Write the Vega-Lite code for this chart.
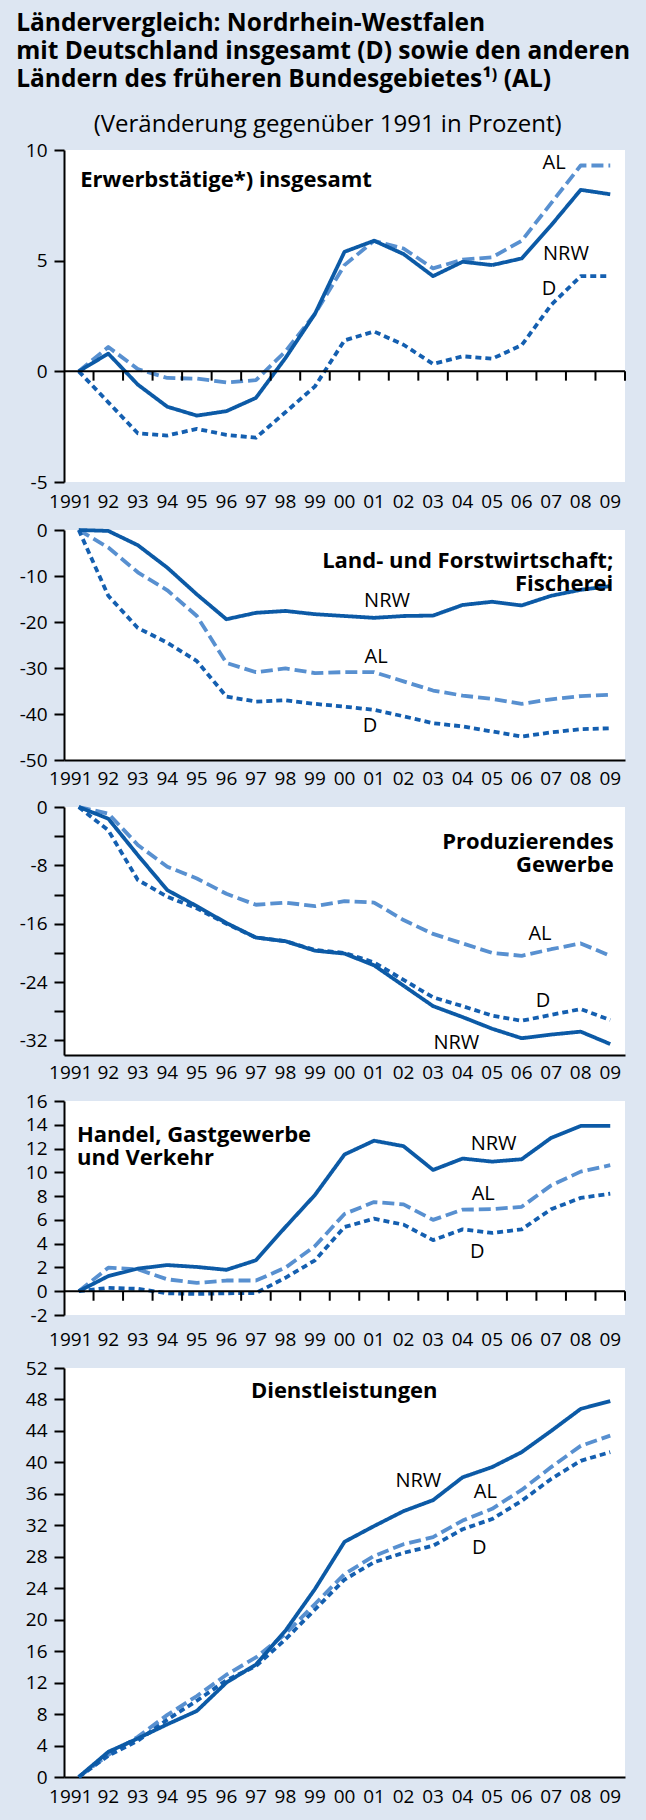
{
  "$schema": "https://vega.github.io/schema/vega-lite/v6.json",
  "background": "#dde6f2",
  "padding": {"left": 16, "top": 10, "right": 20, "bottom": 14},
  "spacing": 9,
  "title": {
    "text": ["Ländervergleich: Nordrhein-Westfalen", "mit Deutschland insgesamt (D) sowie den anderen", "Ländern des früheren Bundesgebietes¹⁾ (AL)"],
    "anchor": "start", "frame": "bounds", "fontSize": 24.5, "fontWeight": "bold", "lineHeight": 28,
    "offset": 21, "dx": -3, "color": "black", "font": "Open Sans"
  },
  "datasets": {
    "d": [
      {"p":1,"yr":1991,"NRW":0,"AL":0,"D":0},
      {"p":1,"yr":1992,"NRW":0.8,"AL":1.1,"D":-1.4},
      {"p":1,"yr":1993,"NRW":-0.6,"AL":0.1,"D":-2.8},
      {"p":1,"yr":1994,"NRW":-1.6,"AL":-0.3,"D":-2.9},
      {"p":1,"yr":1995,"NRW":-2.0,"AL":-0.33,"D":-2.6},
      {"p":1,"yr":1996,"NRW":-1.8,"AL":-0.5,"D":-2.87},
      {"p":1,"yr":1997,"NRW":-1.2,"AL":-0.4,"D":-3.0},
      {"p":1,"yr":1998,"NRW":0.6,"AL":0.9,"D":-1.85},
      {"p":1,"yr":1999,"NRW":2.6,"AL":2.6,"D":-0.68},
      {"p":1,"yr":2000,"NRW":5.4,"AL":4.8,"D":1.4},
      {"p":1,"yr":2001,"NRW":5.9,"AL":5.9,"D":1.8},
      {"p":1,"yr":2002,"NRW":5.3,"AL":5.55,"D":1.2},
      {"p":1,"yr":2003,"NRW":4.3,"AL":4.65,"D":0.33},
      {"p":1,"yr":2004,"NRW":4.95,"AL":5.05,"D":0.68},
      {"p":1,"yr":2005,"NRW":4.8,"AL":5.15,"D":0.57},
      {"p":1,"yr":2006,"NRW":5.1,"AL":5.9,"D":1.18},
      {"p":1,"yr":2007,"NRW":6.6,"AL":7.6,"D":3.0},
      {"p":1,"yr":2008,"NRW":8.2,"AL":9.3,"D":4.3},
      {"p":1,"yr":2009,"NRW":8.0,"AL":9.3,"D":4.3},
      {"p":2,"yr":1991,"NRW":0,"AL":0,"D":0},
      {"p":2,"yr":1992,"NRW":-0.2,"AL":-3.8,"D":-14.3},
      {"p":2,"yr":1993,"NRW":-3.3,"AL":-9.2,"D":-21.3},
      {"p":2,"yr":1994,"NRW":-8.2,"AL":-13.1,"D":-24.5},
      {"p":2,"yr":1995,"NRW":-14.0,"AL":-18.7,"D":-28.5},
      {"p":2,"yr":1996,"NRW":-19.4,"AL":-28.9,"D":-36.2},
      {"p":2,"yr":1997,"NRW":-18.0,"AL":-30.9,"D":-37.3},
      {"p":2,"yr":1998,"NRW":-17.6,"AL":-30.1,"D":-37.0},
      {"p":2,"yr":1999,"NRW":-18.3,"AL":-31.1,"D":-37.8},
      {"p":2,"yr":2000,"NRW":-18.7,"AL":-30.9,"D":-38.4},
      {"p":2,"yr":2001,"NRW":-19.1,"AL":-30.9,"D":-39.1},
      {"p":2,"yr":2002,"NRW":-18.7,"AL":-32.9,"D":-40.5},
      {"p":2,"yr":2003,"NRW":-18.6,"AL":-34.9,"D":-42.0},
      {"p":2,"yr":2004,"NRW":-16.3,"AL":-36.0,"D":-42.7},
      {"p":2,"yr":2005,"NRW":-15.6,"AL":-36.7,"D":-43.8},
      {"p":2,"yr":2006,"NRW":-16.4,"AL":-37.8,"D":-44.9},
      {"p":2,"yr":2007,"NRW":-14.3,"AL":-36.8,"D":-44.0},
      {"p":2,"yr":2008,"NRW":-13.0,"AL":-36.1,"D":-43.3},
      {"p":2,"yr":2009,"NRW":-12.2,"AL":-35.8,"D":-43.1},
      {"p":3,"yr":1991,"NRW":0,"AL":0,"D":0},
      {"p":3,"yr":1992,"NRW":-1.6,"AL":-0.9,"D":-3.2},
      {"p":3,"yr":1993,"NRW":-6.6,"AL":-5.2,"D":-10.0},
      {"p":3,"yr":1994,"NRW":-11.4,"AL":-8.2,"D":-12.3},
      {"p":3,"yr":1995,"NRW":-13.6,"AL":-9.8,"D":-13.9},
      {"p":3,"yr":1996,"NRW":-15.9,"AL":-11.9,"D":-16.0},
      {"p":3,"yr":1997,"NRW":-17.9,"AL":-13.4,"D":-17.9},
      {"p":3,"yr":1998,"NRW":-18.4,"AL":-13.1,"D":-18.4},
      {"p":3,"yr":1999,"NRW":-19.7,"AL":-13.6,"D":-19.6},
      {"p":3,"yr":2000,"NRW":-20.1,"AL":-12.9,"D":-20.0},
      {"p":3,"yr":2001,"NRW":-21.7,"AL":-13.1,"D":-21.3},
      {"p":3,"yr":2002,"NRW":-24.5,"AL":-15.5,"D":-23.7},
      {"p":3,"yr":2003,"NRW":-27.3,"AL":-17.4,"D":-26.1},
      {"p":3,"yr":2004,"NRW":-28.8,"AL":-18.7,"D":-27.3},
      {"p":3,"yr":2005,"NRW":-30.4,"AL":-20.0,"D":-28.6},
      {"p":3,"yr":2006,"NRW":-31.7,"AL":-20.4,"D":-29.3},
      {"p":3,"yr":2007,"NRW":-31.2,"AL":-19.5,"D":-28.5},
      {"p":3,"yr":2008,"NRW":-30.8,"AL":-18.7,"D":-27.7},
      {"p":3,"yr":2009,"NRW":-32.5,"AL":-20.4,"D":-29.2},
      {"p":4,"yr":1991,"NRW":0,"AL":0,"D":0},
      {"p":4,"yr":1992,"NRW":1.27,"AL":1.98,"D":0.28},
      {"p":4,"yr":1993,"NRW":1.9,"AL":1.84,"D":0.2},
      {"p":4,"yr":1994,"NRW":2.2,"AL":1.0,"D":-0.17},
      {"p":4,"yr":1995,"NRW":2.04,"AL":0.7,"D":-0.23},
      {"p":4,"yr":1996,"NRW":1.8,"AL":0.9,"D":-0.17},
      {"p":4,"yr":1997,"NRW":2.6,"AL":0.9,"D":-0.15},
      {"p":4,"yr":1998,"NRW":5.4,"AL":1.98,"D":1.13},
      {"p":4,"yr":1999,"NRW":8.1,"AL":3.8,"D":2.6},
      {"p":4,"yr":2000,"NRW":11.5,"AL":6.5,"D":5.4},
      {"p":4,"yr":2001,"NRW":12.66,"AL":7.5,"D":6.1},
      {"p":4,"yr":2002,"NRW":12.2,"AL":7.3,"D":5.6},
      {"p":4,"yr":2003,"NRW":10.2,"AL":6.0,"D":4.3},
      {"p":4,"yr":2004,"NRW":11.16,"AL":6.86,"D":5.2},
      {"p":4,"yr":2005,"NRW":10.9,"AL":6.9,"D":4.9},
      {"p":4,"yr":2006,"NRW":11.1,"AL":7.1,"D":5.2},
      {"p":4,"yr":2007,"NRW":12.9,"AL":8.9,"D":6.9},
      {"p":4,"yr":2008,"NRW":13.9,"AL":10.06,"D":7.85},
      {"p":4,"yr":2009,"NRW":13.9,"AL":10.6,"D":8.2},
      {"p":5,"yr":1991,"NRW":0,"AL":0,"D":0},
      {"p":5,"yr":1992,"NRW":3.2,"AL":2.8,"D":2.7},
      {"p":5,"yr":1993,"NRW":4.9,"AL":5.1,"D":4.6},
      {"p":5,"yr":1994,"NRW":6.7,"AL":7.9,"D":7.3},
      {"p":5,"yr":1995,"NRW":8.4,"AL":10.3,"D":9.7},
      {"p":5,"yr":1996,"NRW":12.0,"AL":13.0,"D":12.3},
      {"p":5,"yr":1997,"NRW":14.3,"AL":15.2,"D":14.1},
      {"p":5,"yr":1998,"NRW":18.6,"AL":18.2,"D":17.5},
      {"p":5,"yr":1999,"NRW":23.9,"AL":22.0,"D":21.3},
      {"p":5,"yr":2000,"NRW":29.9,"AL":25.8,"D":25.1},
      {"p":5,"yr":2001,"NRW":31.9,"AL":28.1,"D":27.3},
      {"p":5,"yr":2002,"NRW":33.8,"AL":29.6,"D":28.5},
      {"p":5,"yr":2003,"NRW":35.2,"AL":30.5,"D":29.4},
      {"p":5,"yr":2004,"NRW":38.1,"AL":32.6,"D":31.5},
      {"p":5,"yr":2005,"NRW":39.4,"AL":34.1,"D":32.8},
      {"p":5,"yr":2006,"NRW":41.3,"AL":36.5,"D":35.1},
      {"p":5,"yr":2007,"NRW":44.0,"AL":39.4,"D":37.9},
      {"p":5,"yr":2008,"NRW":46.8,"AL":42.1,"D":40.2},
      {"p":5,"yr":2009,"NRW":47.8,"AL":43.4,"D":41.3}
    ]
  },
  "vconcat": [
    {
      "width": 561, "height": 332,
      "title": {"text": "(Veränderung gegenüber 1991 in Prozent)", "anchor": "middle", "frame": "bounds", "fontSize": 24, "fontWeight": "normal", "offset": 4, "dx": 2, "color": "black", "font": "Open Sans"},
      "layer": [
        {"data": {"name": "d"}, "transform": [{"filter": "datum.p == 1"}, {"fold": ["AL", "D", "NRW"], "as": ["s", "v"]}],
         "mark": {"type": "line", "strokeWidth": 3.8, "strokeCap": "butt", "strokeJoin": "round"},
         "encoding": {
           "x": {"field": "yr", "type": "ordinal", "bandPosition": 0.5, "title": null, "scale": {"type": "band", "paddingInner": 0, "paddingOuter": 0},
                 "axis": {"title": null, "labelAngle": 0, "labelExpr": "datum.value == 1991 ? '1991' : substring(toString(datum.value), 2, 4)", "ticks": false, "tickSize": 0, "domain": false, "labelPadding": 10.3, "labelOverlap": false, "labelBound": false, "labelFlush": false, "labelOffset": {"condition": {"test": "datum.value == 1991", "value": -8}, "value": 0}}},
           "y": {"field": "v", "type": "quantitative", "title": null, "scale": {"domain": [-5, 10], "nice": false, "zero": false},
                 "axis": {"title": null, "values": [-5, 0, 5, 10], "tickCount": 40, "labelExpr": "toString(datum.value)", "labelOverlap": false, "grid": false, "domainColor": "black", "domainWidth": 2, "tickColor": "black", "tickWidth": 2, "tickSize": 10, "labelPadding": 7}},
           "color": {"field": "s", "type": "nominal", "scale": {"domain": ["AL", "D", "NRW"], "range": ["#5890d0", "#145fb0", "#0c5aa6"]}, "legend": null},
           "strokeDash": {"field": "s", "type": "nominal", "scale": {"domain": ["AL", "D", "NRW"], "range": [[12, 5], [6, 4], [1, 0]]}, "legend": null}
         }},
        {"data": {"values": [{}]}, "mark": {"type": "rule", "color": "black", "strokeWidth": 2}, "encoding": {"y": {"datum": 0, "type": "quantitative", "title": null}}},
        {"data": {"name": "d"}, "transform": [{"filter": "datum.p == 1"}], "mark": {"type": "rule", "color": "black", "strokeWidth": 2}, "encoding": {"x": {"field": "yr", "type": "ordinal", "bandPosition": 1, "title": null}, "y": {"datum": 0, "type": "quantitative", "title": null}, "y2": {"datum": -0.42}}},
        {"data": {"values": [{}]}, "mark": {"type": "text", "text": "Erwerbstätige*) insgesamt", "align": "left", "baseline": "middle", "fontSize": 22, "fontWeight": "bold"}, "encoding": {"x": {"datum": 1991, "type": "ordinal", "bandPosition": 0.55, "title": null}, "y": {"datum": 8.64, "type": "quantitative", "title": null}}},
        {"data": {"values": [{}]}, "mark": {"type": "text", "text": "AL", "align": "center", "baseline": "middle"}, "encoding": {"x": {"datum": 2007, "type": "ordinal", "bandPosition": 0.6, "title": null}, "y": {"datum": 9.41, "type": "quantitative", "title": null}}},
        {"data": {"values": [{}]}, "mark": {"type": "text", "text": "NRW", "align": "center", "baseline": "middle"}, "encoding": {"x": {"datum": 2007, "type": "ordinal", "bandPosition": 1, "title": null}, "y": {"datum": 5.32, "type": "quantitative", "title": null}}},
        {"data": {"values": [{}]}, "mark": {"type": "text", "text": "D", "align": "center", "baseline": "middle"}, "encoding": {"x": {"datum": 2007, "type": "ordinal", "bandPosition": 0.43, "title": null}, "y": {"datum": 3.73, "type": "quantitative", "title": null}}}
      ]
    },
    {
      "width": 561, "height": 230,
      "layer": [
        {"data": {"name": "d"}, "transform": [{"filter": "datum.p == 2"}, {"fold": ["AL", "D", "NRW"], "as": ["s", "v"]}],
         "mark": {"type": "line", "strokeWidth": 3.8, "strokeCap": "butt", "strokeJoin": "round"},
         "encoding": {
           "x": {"field": "yr", "type": "ordinal", "bandPosition": 0.5, "title": null, "scale": {"type": "band", "paddingInner": 0, "paddingOuter": 0},
                 "axis": {"title": null, "labelAngle": 0, "labelExpr": "datum.value == 1991 ? '1991' : substring(toString(datum.value), 2, 4)", "ticks": false, "tickSize": 0, "domain": true, "domainColor": "black", "domainWidth": 2, "labelPadding": 9.9, "labelOverlap": false, "labelBound": false, "labelFlush": false, "labelOffset": {"condition": {"test": "datum.value == 1991", "value": -8}, "value": 0}}},
           "y": {"field": "v", "type": "quantitative", "title": null, "scale": {"domain": [-50, 0], "nice": false, "zero": false},
                 "axis": {"title": null, "values": [-50, -40, -30, -20, -10, 0], "tickCount": 40, "labelExpr": "toString(datum.value)", "labelOverlap": false, "grid": false, "domainColor": "black", "domainWidth": 2, "tickColor": "black", "tickWidth": 2, "tickSize": 10, "labelPadding": 7}},
           "color": {"field": "s", "type": "nominal", "scale": {"domain": ["AL", "D", "NRW"], "range": ["#5890d0", "#145fb0", "#0c5aa6"]}, "legend": null},
           "strokeDash": {"field": "s", "type": "nominal", "scale": {"domain": ["AL", "D", "NRW"], "range": [[12, 5], [6, 4], [1, 0]]}, "legend": null}
         }},
        {"data": {"values": [{}]}, "mark": {"type": "text", "text": ["Land- und Forstwirtschaft;", "Fischerei"], "align": "right", "baseline": "middle", "fontSize": 22, "fontWeight": "bold", "lineHeight": 23}, "encoding": {"x": {"datum": 2009, "type": "ordinal", "bandPosition": 0.6, "title": null}, "y": {"datum": -6.67, "type": "quantitative", "title": null}}},
        {"data": {"values": [{}]}, "mark": {"type": "text", "text": "NRW", "align": "center", "baseline": "middle"}, "encoding": {"x": {"datum": 2001, "type": "ordinal", "bandPosition": 0.94, "title": null}, "y": {"datum": -15.4, "type": "quantitative", "title": null}}},
        {"data": {"values": [{}]}, "mark": {"type": "text", "text": "AL", "align": "center", "baseline": "middle"}, "encoding": {"x": {"datum": 2001, "type": "ordinal", "bandPosition": 0.57, "title": null}, "y": {"datum": -27.5, "type": "quantitative", "title": null}}},
        {"data": {"values": [{}]}, "mark": {"type": "text", "text": "D", "align": "center", "baseline": "middle"}, "encoding": {"x": {"datum": 2001, "type": "ordinal", "bandPosition": 0.36, "title": null}, "y": {"datum": -42.5, "type": "quantitative", "title": null}}}
      ]
    },
    {
      "width": 561, "height": 248,
      "layer": [
        {"data": {"name": "d"}, "transform": [{"filter": "datum.p == 3"}, {"fold": ["AL", "D", "NRW"], "as": ["s", "v"]}],
         "mark": {"type": "line", "strokeWidth": 3.8, "strokeCap": "butt", "strokeJoin": "round"},
         "encoding": {
           "x": {"field": "yr", "type": "ordinal", "bandPosition": 0.5, "title": null, "scale": {"type": "band", "paddingInner": 0, "paddingOuter": 0},
                 "axis": {"title": null, "labelAngle": 0, "labelExpr": "datum.value == 1991 ? '1991' : substring(toString(datum.value), 2, 4)", "ticks": false, "tickSize": 0, "domain": true, "domainColor": "black", "domainWidth": 2, "labelPadding": 8.5, "labelOverlap": false, "labelBound": false, "labelFlush": false, "labelOffset": {"condition": {"test": "datum.value == 1991", "value": -8}, "value": 0}}},
           "y": {"field": "v", "type": "quantitative", "title": null, "scale": {"domain": [-34, 0], "nice": false, "zero": false},
                 "axis": {"title": null, "values": [-32, -28, -24, -20, -16, -12, -8, -4, 0], "tickCount": 40, "labelExpr": "datum.value % 8 == 0 ? toString(datum.value) : ''", "labelOverlap": false, "grid": false, "domainColor": "black", "domainWidth": 2, "tickColor": "black", "tickWidth": 2, "tickSize": 10, "labelPadding": 7}},
           "color": {"field": "s", "type": "nominal", "scale": {"domain": ["AL", "D", "NRW"], "range": ["#5890d0", "#145fb0", "#0c5aa6"]}, "legend": null},
           "strokeDash": {"field": "s", "type": "nominal", "scale": {"domain": ["AL", "D", "NRW"], "range": [[12, 5], [6, 4], [1, 0]]}, "legend": null}
         }},
        {"data": {"values": [{}]}, "mark": {"type": "text", "text": ["Produzierendes", "Gewerbe"], "align": "right", "baseline": "middle", "fontSize": 22, "fontWeight": "bold", "lineHeight": 23}, "encoding": {"x": {"datum": 2009, "type": "ordinal", "bandPosition": 0.62, "title": null}, "y": {"datum": -4.75, "type": "quantitative", "title": null}}},
        {"data": {"values": [{}]}, "mark": {"type": "text", "text": "AL", "align": "center", "baseline": "middle"}, "encoding": {"x": {"datum": 2007, "type": "ordinal", "bandPosition": 0.12, "title": null}, "y": {"datum": -17.4, "type": "quantitative", "title": null}}},
        {"data": {"values": [{}]}, "mark": {"type": "text", "text": "D", "align": "center", "baseline": "middle"}, "encoding": {"x": {"datum": 2007, "type": "ordinal", "bandPosition": 0.22, "title": null}, "y": {"datum": -26.6, "type": "quantitative", "title": null}}},
        {"data": {"values": [{}]}, "mark": {"type": "text", "text": "NRW", "align": "center", "baseline": "middle"}, "encoding": {"x": {"datum": 2004, "type": "ordinal", "bandPosition": 0.29, "title": null}, "y": {"datum": -32.4, "type": "quantitative", "title": null}}}
      ]
    },
    {
      "width": 561, "height": 214,
      "layer": [
        {"data": {"name": "d"}, "transform": [{"filter": "datum.p == 4"}, {"fold": ["AL", "D", "NRW"], "as": ["s", "v"]}],
         "mark": {"type": "line", "strokeWidth": 3.8, "strokeCap": "butt", "strokeJoin": "round"},
         "encoding": {
           "x": {"field": "yr", "type": "ordinal", "bandPosition": 0.5, "title": null, "scale": {"type": "band", "paddingInner": 0, "paddingOuter": 0},
                 "axis": {"title": null, "labelAngle": 0, "labelExpr": "datum.value == 1991 ? '1991' : substring(toString(datum.value), 2, 4)", "ticks": false, "tickSize": 0, "domain": false, "labelPadding": 15.5, "labelOverlap": false, "labelBound": false, "labelFlush": false, "labelOffset": {"condition": {"test": "datum.value == 1991", "value": -8}, "value": 0}}},
           "y": {"field": "v", "type": "quantitative", "title": null, "scale": {"domain": [-2, 16], "nice": false, "zero": false},
                 "axis": {"title": null, "values": [-2, 0, 2, 4, 6, 8, 10, 12, 14, 16], "tickCount": 40, "labelExpr": "toString(datum.value)", "labelOverlap": false, "grid": false, "domainColor": "black", "domainWidth": 2, "tickColor": "black", "tickWidth": 2, "tickSize": 10, "labelPadding": 7}},
           "color": {"field": "s", "type": "nominal", "scale": {"domain": ["AL", "D", "NRW"], "range": ["#5890d0", "#145fb0", "#0c5aa6"]}, "legend": null},
           "strokeDash": {"field": "s", "type": "nominal", "scale": {"domain": ["AL", "D", "NRW"], "range": [[12, 5], [6, 4], [1, 0]]}, "legend": null}
         }},
        {"data": {"values": [{}]}, "mark": {"type": "rule", "color": "black", "strokeWidth": 2}, "encoding": {"y": {"datum": 0, "type": "quantitative", "title": null}}},
        {"data": {"name": "d"}, "transform": [{"filter": "datum.p == 4"}], "mark": {"type": "rule", "color": "black", "strokeWidth": 2}, "encoding": {"x": {"field": "yr", "type": "ordinal", "bandPosition": 1, "title": null}, "y": {"datum": 0, "type": "quantitative", "title": null}, "y2": {"datum": -0.8}}},
        {"data": {"values": [{}]}, "mark": {"type": "text", "text": ["Handel, Gastgewerbe", "und Verkehr"], "align": "left", "baseline": "middle", "fontSize": 22, "fontWeight": "bold", "lineHeight": 23}, "encoding": {"x": {"datum": 1991, "type": "ordinal", "bandPosition": 0.44, "title": null}, "y": {"datum": 13.17, "type": "quantitative", "title": null}}},
        {"data": {"values": [{}]}, "mark": {"type": "text", "text": "NRW", "align": "center", "baseline": "middle"}, "encoding": {"x": {"datum": 2005, "type": "ordinal", "bandPosition": 0.55, "title": null}, "y": {"datum": 12.37, "type": "quantitative", "title": null}}},
        {"data": {"values": [{}]}, "mark": {"type": "text", "text": "AL", "align": "center", "baseline": "middle"}, "encoding": {"x": {"datum": 2005, "type": "ordinal", "bandPosition": 0.2, "title": null}, "y": {"datum": 8.14, "type": "quantitative", "title": null}}},
        {"data": {"values": [{}]}, "mark": {"type": "text", "text": "D", "align": "center", "baseline": "middle"}, "encoding": {"x": {"datum": 2005, "type": "ordinal", "bandPosition": 0.0, "title": null}, "y": {"datum": 3.34, "type": "quantitative", "title": null}}}
      ]
    },
    {
      "width": 561, "height": 409,
      "layer": [
        {"data": {"name": "d"}, "transform": [{"filter": "datum.p == 5"}, {"fold": ["AL", "D", "NRW"], "as": ["s", "v"]}],
         "mark": {"type": "line", "strokeWidth": 3.8, "strokeCap": "butt", "strokeJoin": "round"},
         "encoding": {
           "x": {"field": "yr", "type": "ordinal", "bandPosition": 0.5, "title": null, "scale": {"type": "band", "paddingInner": 0, "paddingOuter": 0},
                 "axis": {"title": null, "labelAngle": 0, "labelExpr": "datum.value == 1991 ? '1991' : substring(toString(datum.value), 2, 4)", "ticks": false, "tickSize": 0, "domain": true, "domainColor": "black", "domainWidth": 2, "labelPadding": 10.5, "labelOverlap": false, "labelBound": false, "labelFlush": false, "labelOffset": {"condition": {"test": "datum.value == 1991", "value": -8}, "value": 0}}},
           "y": {"field": "v", "type": "quantitative", "title": null, "scale": {"domain": [0, 52], "nice": false, "zero": false},
                 "axis": {"title": null, "values": [0, 4, 8, 12, 16, 20, 24, 28, 32, 36, 40, 44, 48, 52], "tickCount": 40, "labelExpr": "toString(datum.value)", "labelOverlap": false, "grid": false, "domainColor": "black", "domainWidth": 2, "tickColor": "black", "tickWidth": 2, "tickSize": 10, "labelPadding": 7}},
           "color": {"field": "s", "type": "nominal", "scale": {"domain": ["AL", "D", "NRW"], "range": ["#5890d0", "#145fb0", "#0c5aa6"]}, "legend": null},
           "strokeDash": {"field": "s", "type": "nominal", "scale": {"domain": ["AL", "D", "NRW"], "range": [[12, 5], [6, 4], [1, 0]]}, "legend": null}
         }},
        {"data": {"values": [{}]}, "mark": {"type": "text", "text": "Dienstleistungen", "align": "center", "baseline": "middle", "fontSize": 22, "fontWeight": "bold"}, "encoding": {"x": {"datum": 2000, "type": "ordinal", "bandPosition": 0.49, "title": null}, "y": {"datum": 49.1, "type": "quantitative", "title": null}}},
        {"data": {"values": [{}]}, "mark": {"type": "text", "text": "NRW", "align": "center", "baseline": "middle"}, "encoding": {"x": {"datum": 2003, "type": "ordinal", "bandPosition": 0.0, "title": null}, "y": {"datum": 37.6, "type": "quantitative", "title": null}}},
        {"data": {"values": [{}]}, "mark": {"type": "text", "text": "AL", "align": "center", "baseline": "middle"}, "encoding": {"x": {"datum": 2005, "type": "ordinal", "bandPosition": 0.27, "title": null}, "y": {"datum": 36.2, "type": "quantitative", "title": null}}},
        {"data": {"values": [{}]}, "mark": {"type": "text", "text": "D", "align": "center", "baseline": "middle"}, "encoding": {"x": {"datum": 2005, "type": "ordinal", "bandPosition": 0.06, "title": null}, "y": {"datum": 29.1, "type": "quantitative", "title": null}}}
      ]
    }
  ],
  "config": {
    "font": "Open Sans",
    "axis": {"labelFont": "Open Sans", "labelFontSize": 19, "labelColor": "black", "domainColor": "black", "tickColor": "black", "grid": false},
    "view": {"fill": "white", "stroke": null},
    "text": {"font": "Open Sans", "fontSize": 20, "color": "black"}
  }
}
